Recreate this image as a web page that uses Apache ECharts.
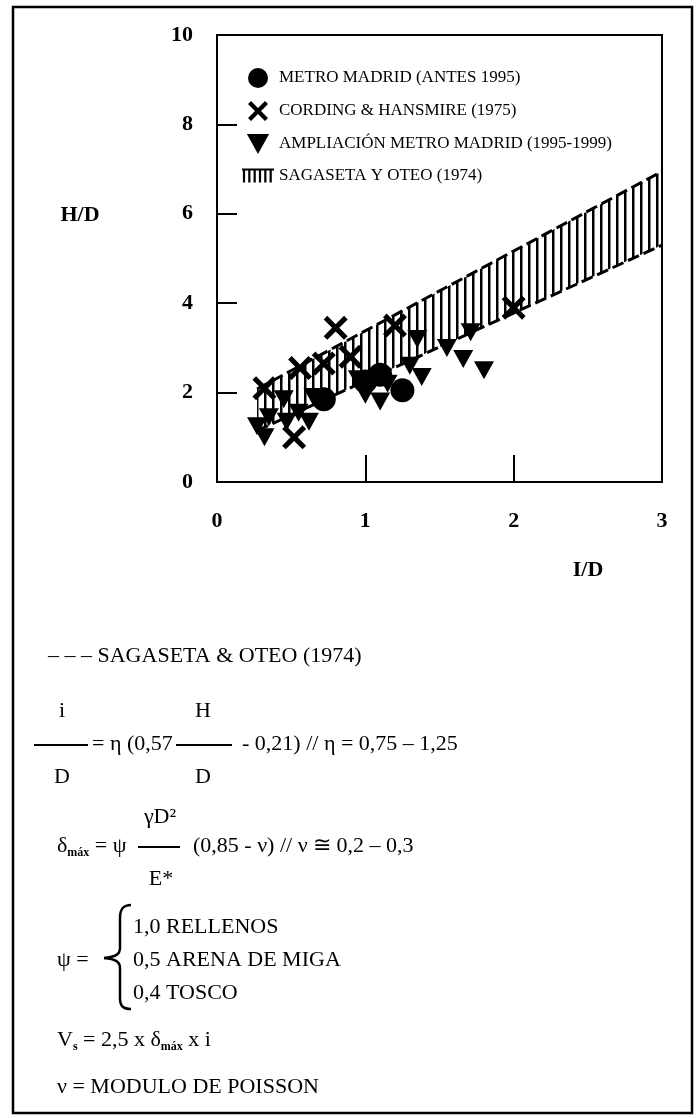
<!DOCTYPE html>
<html>
<head>
<meta charset="utf-8">
<script src="https://cdn.jsdelivr.net/npm/echarts@6/dist/echarts.min.js"></script>
<style>
  html, body { margin: 0; padding: 0; background: #fff; }
  #chart { width: 696px; height: 1118px; }
</style>
</head>
<body>
<div id="chart"></div>
<script>
// values (I/D, H/D)
const metroMadrid = [[0.72, 1.85], [1.0, 2.25], [1.1, 2.4], [1.25, 2.05]];
const cordingHansmire = [[0.32, 2.1], [0.52, 1.0], [0.56, 2.55], [0.72, 2.65], [0.8, 3.45], [0.9, 2.8], [1.2, 3.5], [2.0, 3.9]];
const ampliacion = [[0.27, 1.25], [0.32, 1.0], [0.35, 1.45], [0.45, 1.85], [0.47, 1.35], [0.55, 1.55],
  [0.62, 1.35], [0.65, 1.9], [0.95, 2.3], [1.0, 1.95], [1.1, 1.8], [1.15, 2.2], [1.3, 2.6],
  [1.35, 3.2], [1.38, 2.35], [1.55, 3.0], [1.66, 2.75], [1.71, 3.35], [1.8, 2.5]];
// Sagaseta y Oteo band edges
const bandX = [0.27, 3.0];
const bandLo = [1.15, 5.3];
const bandHi = [2.08, 6.95];
const xTicks = [0, 1, 2, 3];
const yTicks = [0, 2, 4, 6, 8, 10];

const legendNames = ['METRO MADRID (ANTES 1995)', 'CORDING & HANSMIRE (1975)',
  'AMPLIACIÓN METRO MADRID (1995-1999)', 'SAGASETA Y OTEO (1974)'];

const crossPath = 'path://M0,3L3,0L10,7L17,0L20,3L13,10L20,17L17,20L10,13L3,20L0,17L7,10Z';
const triPath = 'path://M0,0L20,0L10,18Z';
const hatchIcon = 'path://M0,0H36V2.5H0Z M1,0H3.5V16H1Z M7,0H9.5V16H7Z M13,0H15.5V16H13Z M19,0H21.5V16H19Z M25,0H27.5V16H25Z M31,0H33.5V16H31Z';

// vertical stripe pattern for the band
const hatch = document.createElement('canvas');
hatch.width = 8; hatch.height = 8;
const hctx = hatch.getContext('2d');
hctx.fillStyle = '#000';
hctx.fillRect(0, 0, 2.5, 8);

const serif = 'Liberation Serif';
const F = '22px "Liberation Serif"';

function txt(x, y, text, align) {
  return {
    type: 'text', x: x, y: y,
    style: { text: text, font: F, fill: '#000', align: align || 'left', verticalAlign: 'middle' }
  };
}
function rtxt(x, y, text) {
  return {
    type: 'text', x: x, y: y,
    style: {
      text: text, font: F, fill: '#000', align: 'left', verticalAlign: 'middle',
      rich: { sub: { fontSize: 12, fontWeight: 'bold', fontFamily: serif, verticalAlign: 'bottom', lineHeight: 26 },
              n: { fontSize: 22, fontFamily: serif, lineHeight: 26 } }
    }
  };
}
function hline(x1, x2, y) {
  return { type: 'line', shape: { x1: x1, y1: y, x2: x2, y2: y }, style: { stroke: '#000', lineWidth: 1.8 } };
}
function bez(x1, y1, c1x, c1y, c2x, c2y, x2, y2) {
  return { type: 'bezierCurve', shape: { x1: x1, y1: y1, cpx1: c1x, cpy1: c1y, cpx2: c2x, cpy2: c2y, x2: x2, y2: y2 },
    style: { stroke: '#000', lineWidth: 2.5, fill: null } };
}

const chart = echarts.init(document.getElementById('chart'));

const option = {
  animation: false,
  backgroundColor: '#fff',
  grid: { left: 217, top: 35, width: 445, height: 447, show: true, borderColor: '#000', borderWidth: 2 },
  xAxis: {
    type: 'value', min: xTicks[0], max: xTicks[xTicks.length - 1], interval: 1,
    axisLine: { show: true, lineStyle: { color: '#000', width: 2 } },
    axisTick: { show: true, inside: true, length: 27, lineStyle: { color: '#000', width: 2 } },
    splitLine: { show: false },
    axisLabel: { color: '#000', fontFamily: serif, fontWeight: 'bold', fontSize: 22, margin: 28 }
  },
  yAxis: {
    type: 'value', min: yTicks[0], max: yTicks[yTicks.length - 1], interval: 2,
    axisLine: { show: true, lineStyle: { color: '#000', width: 2 } },
    axisTick: { show: true, inside: true, length: 20, lineStyle: { color: '#000', width: 2 } },
    splitLine: { show: false },
    axisLabel: { color: '#000', fontFamily: serif, fontWeight: 'bold', fontSize: 22, margin: 24 }
  },
  legend: {
    orient: 'vertical', left: 237, top: 63, itemWidth: 32, itemHeight: 20, itemGap: 13,
    selectedMode: false,
    textStyle: { color: '#000', fontFamily: serif, fontSize: 17 },
    data: [
      { name: legendNames[0], icon: 'circle' },
      { name: legendNames[1], icon: crossPath },
      { name: legendNames[2], icon: triPath },
      { name: legendNames[3], icon: hatchIcon }
    ]
  },
  series: [
    {
      type: 'custom', name: legendNames[3], z: 1,
      itemStyle: { color: '#000' },
      data: bandX.map((x, i) => [x, bandLo[i], bandHi[i]]),
      encode: { x: 0, y: [1, 2] },
      renderItem: function (params, api) {
        const i = params.dataIndex;
        if (i >= bandX.length - 1) return null;
        const pts = [
          api.coord([bandX[i], bandLo[i]]), api.coord([bandX[i + 1], bandLo[i + 1]]),
          api.coord([bandX[i + 1], bandHi[i + 1]]), api.coord([bandX[i], bandHi[i]])
        ];
        return { type: 'polygon', shape: { points: pts }, style: { fill: { image: hatch, repeat: 'repeat' } } };
      }
    },
    {
      type: 'line', name: 'lower', symbol: 'none', z: 2,
      data: bandX.map((x, i) => [x, bandLo[i]]),
      lineStyle: { color: '#000', width: 3, type: [12, 5] }
    },
    {
      type: 'line', name: 'upper', symbol: 'none', z: 2,
      data: bandX.map((x, i) => [x, bandHi[i]]),
      lineStyle: { color: '#000', width: 3, type: [12, 5] }
    },
    {
      type: 'scatter', name: legendNames[2], symbol: triPath, symbolSize: [20, 18], z: 3,
      itemStyle: { color: '#000', opacity: 1 }, data: ampliacion
    },
    {
      type: 'scatter', name: legendNames[1], symbol: crossPath, symbolSize: 24, z: 4,
      itemStyle: { color: '#000', opacity: 1 }, data: cordingHansmire
    },
    {
      type: 'scatter', name: legendNames[0], symbol: 'circle', symbolSize: 24, z: 5,
      itemStyle: { color: '#000', opacity: 1 }, data: metroMadrid
    }
  ],
  graphic: [
    { type: 'rect', shape: { x: 13, y: 7, width: 679, height: 1106 }, style: { fill: null, stroke: '#000', lineWidth: 2.5 } },
    { type: 'text', x: 80, y: 215, style: { text: 'H/D', font: 'bold 22px "Liberation Serif"', fill: '#000', align: 'center', verticalAlign: 'middle' } },
    { type: 'text', x: 588, y: 570, style: { text: 'I/D', font: 'bold 22px "Liberation Serif"', fill: '#000', align: 'center', verticalAlign: 'middle' } },

    txt(48, 656, '– – – SAGASETA & OTEO (1974)'),

    txt(62, 711, 'i', 'center'),
    txt(203, 711, 'H', 'center'),
    hline(34, 88, 745),
    txt(92, 744, '= η (0,57'),
    hline(176, 232, 745),
    txt(242, 744, '- 0,21) // η = 0,75 – 1,25'),
    txt(62, 777, 'D', 'center'),
    txt(203, 777, 'D', 'center'),

    txt(160, 817, 'γD²', 'center'),
    rtxt(57, 846, '{n|δ}{sub|máx}{n| = ψ}'),
    hline(138, 180, 847),
    txt(193, 846, '(0,85 - ν) // ν ≅ 0,2 – 0,3'),
    txt(161, 879, 'E*', 'center'),

    txt(57, 960, 'ψ ='),
    bez(131, 905, 123, 905, 120, 909, 120, 918),
    { type: 'line', shape: { x1: 120, y1: 918, x2: 120, y2: 948 }, style: { stroke: '#000', lineWidth: 2.5 } },
    bez(120, 948, 120, 954, 116, 957, 104, 958),
    bez(104, 958, 116, 959, 120, 962, 120, 968),
    { type: 'line', shape: { x1: 120, y1: 968, x2: 120, y2: 998 }, style: { stroke: '#000', lineWidth: 2.5 } },
    bez(120, 998, 120, 1006, 123, 1009, 131, 1009),
    txt(133, 927, '1,0 RELLENOS'),
    txt(133, 960, '0,5 ARENA DE MIGA'),
    txt(133, 993, '0,4 TOSCO'),

    rtxt(57, 1040, '{n|V}{sub|s}{n| = 2,5 x δ}{sub|máx}{n| x i}'),
    txt(57, 1087, 'ν = MODULO DE POISSON')
  ]
};

chart.setOption(option);
</script>
</body>
</html>
